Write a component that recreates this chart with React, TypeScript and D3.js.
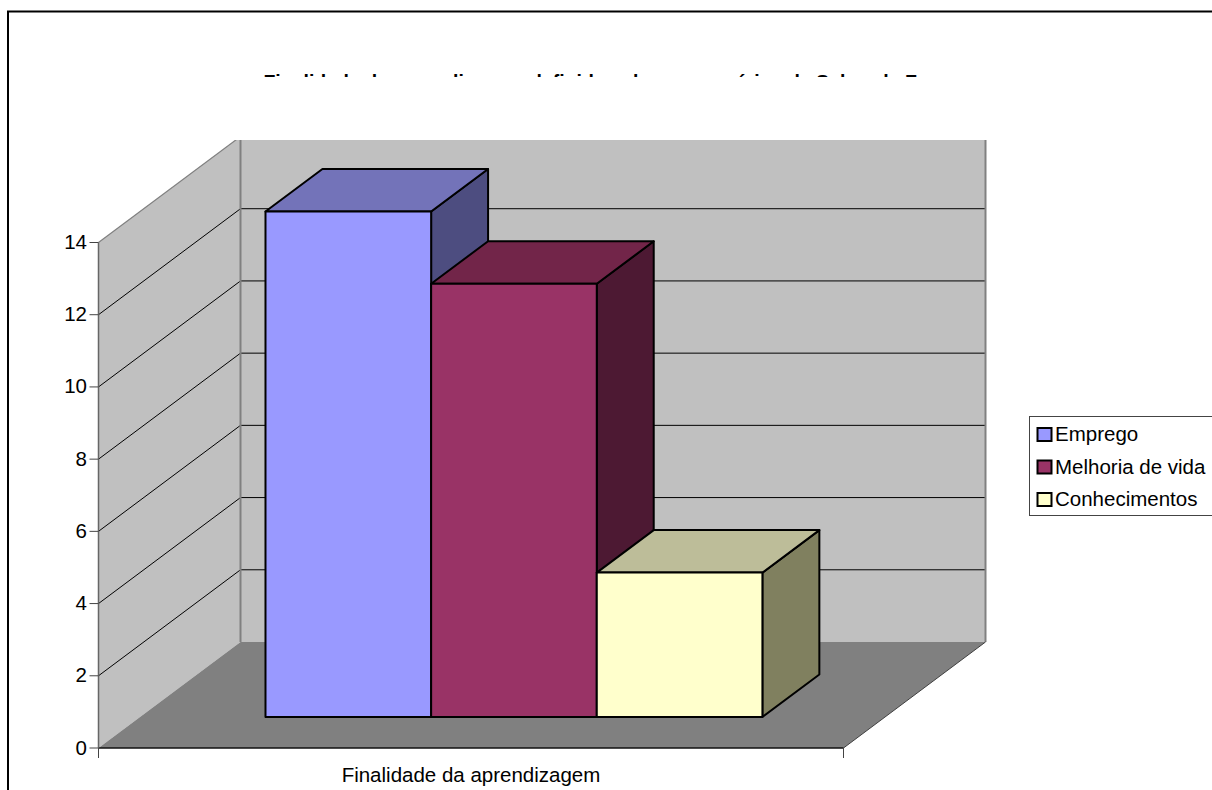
import React from "react";
import * as d3 from "d3";

const categories = ["Finalidade da aprendizagem"];
const seriesNames = ["Emprego", "Melhoria de vida", "Conhecimentos"];
const seriesValues = [14, 12, 4];
const seriesColors = ["#9999ff", "#993366", "#ffffcc"];
const topColors = ["#7373b9", "#722549", "#bdbd99"];
const sideColors = ["#4d4d80", "#4d1933", "#80805f"];
const yTicks = [0, 2, 4, 6, 8, 10, 12, 14];
const titleText = "Finalidade da aprendizagem definida pelos empresários de Sabor de Fogo";

const FONT = "'Liberation Sans', Arial, sans-serif";
const y = d3.scaleLinear().domain([0, 14]).range([748, 242.5]);
const xFront = d3.scaleLinear().domain([0, 1]).range([98.5, 843.5]);
const depthX = d3.scaleLinear().domain([0, 1]).range([0, 142]);
const depthY = d3.scaleLinear().domain([0, 1]).range([0, -106]);
const band = d3.scaleBand<number>().domain([0, 1, 2]).range([0.1685, 0.8355]);
const Z0 = 0.292;
const Z1 = 0.693;

const proj = (u: number, v: number, z: number): [number, number] => [xFront(u) + depthX(z), y(v) + depthY(z)];
const poly = (pts: [number, number][]) => (d3.line()(pts) as string) + "Z";

export default function App() {
  const yMax = 14;
  return (
    <svg width={1212} height={790} style={{ position: "absolute", left: 0, top: 0, background: "#fff" }} fontFamily={FONT}>
      <defs>
        <clipPath id="title-clip"><rect x={0} y={60} width={1212} height={17} /></clipPath>
        <clipPath id="plot-clip"><rect x={0} y={140} width={1212} height={650} /></clipPath>
      </defs>
      <path d="M1212,11.5H8V790" fill="none" stroke="#000" strokeWidth={2} />
      <g clipPath="url(#title-clip)">
        <text x={608} y={88.5} fontSize={19.5} fontWeight="bold" textAnchor="middle" fill="#000">{titleText}</text>
      </g>

      <g clipPath="url(#plot-clip)">
        <path d={poly([proj(0, 0, 1), proj(1, 0, 1), proj(1, yMax, 1), proj(0, yMax, 1)])} fill="#c0c0c0" />
        <path d={poly([proj(0, 0, 0), proj(0, 0, 1), proj(0, yMax, 1), proj(0, yMax, 0)])} fill="#c0c0c0" />
        {yTicks.slice(1, -1).map((t) => (
          <path key={t} d={d3.line()([proj(0, t, 0), proj(0, t, 1), proj(1, t, 1)]) as string} fill="none" stroke="#000" strokeWidth={1} />
        ))}
        <path d={d3.line()([proj(0, yMax, 1), proj(1, yMax, 1)]) as string} stroke="#000" strokeWidth={1} fill="none" />
        <path d={d3.line()([proj(0, yMax, 0), proj(0, yMax, 1)]) as string} stroke="#808080" strokeWidth={1.2} fill="none" />
        <path d={d3.line()([proj(0, 0, 1), proj(0, yMax, 1)]) as string} stroke="#808080" strokeWidth={2} fill="none" />
        <path d={d3.line()([proj(1, 0, 1), proj(1, yMax, 1)]) as string} stroke="#808080" strokeWidth={2} fill="none" />
      </g>
      <path d={poly([proj(0, 0, 0), proj(1, 0, 0), proj(1, 0, 1), proj(0, 0, 1)])} fill="#808080" />
      <path d={d3.line()([proj(1, 0, 0), proj(1, 0, 1)]) as string} stroke="#404040" strokeWidth={1} fill="none" />

      {seriesValues.map((v, i) => {
        const u0 = band(i) as number;
        const u1 = u0 + band.bandwidth();
        return (
          <g key={seriesNames[i]} stroke="#000" strokeWidth={2} strokeLinejoin="round">
            <path d={poly([proj(u1, 0, Z0), proj(u1, 0, Z1), proj(u1, v, Z1), proj(u1, v, Z0)])} fill={sideColors[i]} />
            <path d={poly([proj(u0, v, Z0), proj(u1, v, Z0), proj(u1, v, Z1), proj(u0, v, Z1)])} fill={topColors[i]} />
            <path d={poly([proj(u0, 0, Z0), proj(u1, 0, Z0), proj(u1, v, Z0), proj(u0, v, Z0)])} fill={seriesColors[i]} />
          </g>
        );
      })}

      <path d={d3.line()([proj(0, 0, 0), proj(1, 0, 0)]) as string} stroke="#111" strokeWidth={1.5} fill="none" />
      <path d={d3.line()([proj(0, 0, 0), proj(0, yMax, 0)]) as string} stroke="#666" strokeWidth={1.5} fill="none" />
      <path d={`M${xFront(0)},${y(0)}V${y(0) + 10}M${xFront(1)},${y(0)}V${y(0) + 10}`} stroke="#444" strokeWidth={1} fill="none" />
      {yTicks.map((t) => (
        <g key={t}>
          <line x1={xFront(0) - 9} x2={xFront(0)} y1={y(t)} y2={y(t)} stroke="#444" strokeWidth={1} />
          <text x={87} y={y(t) + 6.5} fontSize={20.5} textAnchor="end" fill="#000">{t}</text>
        </g>
      ))}
      <text x={471} y={782} fontSize={20.5} textAnchor="middle" fill="#000">{categories[0]}</text>

      <rect x={1029.5} y={416.5} width={190} height={99} fill="#fff" stroke="#444" strokeWidth={1} />
      {seriesNames.map((n, i) => (
        <g key={n}>
          <rect x={1037.5} y={428 + i * 32.5} width={14} height={13} fill={seriesColors[i]} stroke="#000" strokeWidth={2} />
          <text x={1055} y={441 + i * 32.6} fontSize={20.5} fill="#000">{n}</text>
        </g>
      ))}
    </svg>
  );
}
